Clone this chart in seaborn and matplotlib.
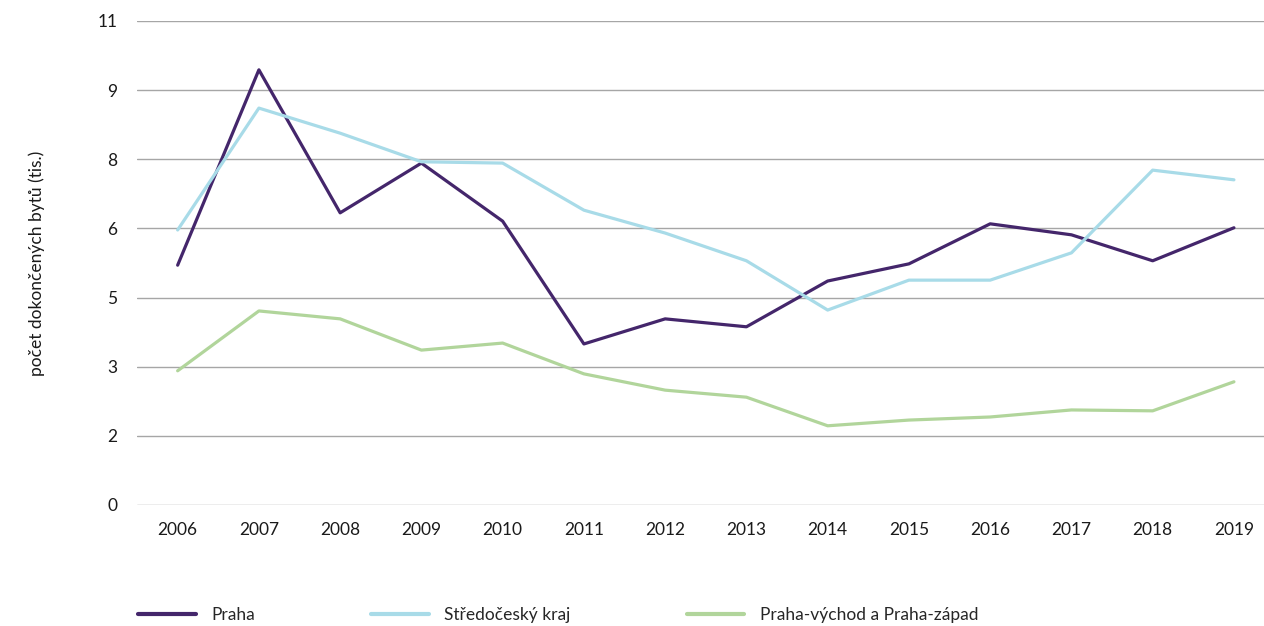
import matplotlib
matplotlib.use("Agg")
import matplotlib.pyplot as plt
import numpy as np
import pandas as pd
import seaborn as sns

# hodnoty (tis. dokončených bytů)
years = list(range(2006, 2020))
praha = [5.45, 9.89, 6.64, 7.77, 6.45, 3.66, 4.23, 4.05, 5.09, 5.48, 6.39, 6.14, 5.55, 6.30]
stredocesky = [6.25, 9.02, 8.45, 7.80, 7.77, 6.70, 6.18, 5.55, 4.43, 5.11, 5.11, 5.73, 7.61, 7.39]
vychod_zapad = [3.05, 4.41, 4.23, 3.52, 3.68, 2.98, 2.61, 2.45, 1.80, 1.93, 2.00, 2.16, 2.14, 2.80]

series_names = ["Praha", "Středočeský kraj", "Praha-východ a Praha-západ"]
colors = ["#44266b", "#a8dbe8", "#b1d59b"]

df = pd.DataFrame({
    "rok": years * 3,
    "hodnota": praha + stredocesky + vychod_zapad,
    "region": [n for n in series_names for _ in years],
})

sns.set_style("white")
plt.rcParams["font.family"] = ["Lato", "DejaVu Sans"]

fig = plt.figure(figsize=(12.64, 6.26), dpi=100)
ax = fig.add_axes([0.1084, 0.1933, 0.8916, 0.7732])

sns.lineplot(data=df, x="rok", y="hodnota", hue="region", palette=colors,
             hue_order=series_names, linewidth=2.3, ax=ax, legend=False)

# osa y: 7 stejných intervalů do 11, popisky zaokrouhlené
yticks = np.linspace(0, 11, 8)
ax.set_yticks(yticks)
ax.set_yticklabels([f"{t:.0f}" for t in yticks])
ax.set_ylim(0, 11)
ax.set_xlim(2005.5, 2019.37)
ax.set_xticks(years)
ax.set_xticklabels([str(y) for y in years])

ax.yaxis.grid(True, color="#a6a6a6", linewidth=1)
ax.set_axisbelow(True)
for s in ax.spines.values():
    s.set_visible(False)
ax.tick_params(axis="both", length=0, labelsize=12.5, colors="#1a1a1a")
ax.tick_params(axis="y", pad=14)
ax.tick_params(axis="x", pad=12)
ax.set_xlabel("")
ax.set_ylabel("počet dokončených bytů (tis.)", fontsize=12.5, color="#1a1a1a", labelpad=38)

handles = [plt.Line2D([], [], color=c, linewidth=3) for c in colors]
fig.legend(handles, series_names, loc="center left", bbox_to_anchor=(0.097, 0.017),
           ncol=3, frameon=False, fontsize=12.5, handlelength=3.3,
           handletextpad=0.9, columnspacing=6.7)

fig.savefig("out.png", dpi=100)
